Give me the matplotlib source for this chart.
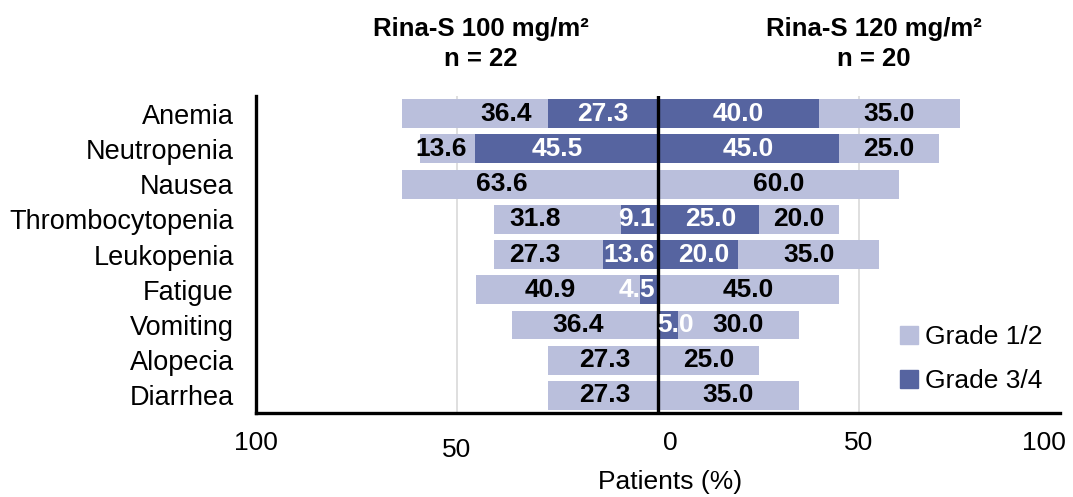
import numpy as np
import matplotlib.pyplot as plt
from matplotlib.patches import Patch
from matplotlib.transforms import blended_transform_factory

plt.rcParams['font.family'] = ['Liberation Sans', 'DejaVu Sans']

categories = ["Anemia", "Neutropenia", "Nausea", "Thrombocytopenia", "Leukopenia",
              "Fatigue", "Vomiting", "Alopecia", "Diarrhea"]

# Rina-S 100 mg/m2 (drawn to the left)
low_g12 = [36.4, 13.6, 63.6, 31.8, 27.3, 40.9, 36.4, 27.3, 27.3]
low_g34 = [27.3, 45.5, 0.0, 9.1, 13.6, 4.5, 0.0, 0.0, 0.0]

# Rina-S 120 mg/m2 (drawn to the right)
high_g12 = [35.0, 25.0, 60.0, 20.0, 35.0, 45.0, 30.0, 25.0, 35.0]
high_g34 = [40.0, 45.0, 0.0, 25.0, 20.0, 0.0, 5.0, 0.0, 0.0]

tick_pos = [-100, -50, 0, 50, 100]
tick_txt = ["100", "50", "0", "50", "100"]

LIGHT = "#babfdc"
DARK = "#5664a0"

# label nudges in % (positive = away from the centre line), to mimic the original
left_g12_shift = [-7.6, 1.7, 7.1, 5.6, 3.4, 1.9, 1.8, -0.4, -0.4]
left_g34_shift = [0, 2.2, 0, 0.8, 0.4, 3.1, 0, 0, 0]
right_g34_shift = [0, 0, 0, 0.5, 1.5, 0, 1.75, 0, 0]


def main():
    fig = plt.figure(figsize=(10.73, 4.97), dpi=100)
    ax = fig.add_axes([0.2386, 0.169, 0.7493, 0.6378])

    y = np.arange(len(categories))
    h = 0.82
    lg12, lg34 = np.array(low_g12), np.array(low_g34)
    hg12, hg34 = np.array(high_g12), np.array(high_g34)

    # gridlines behind bars
    for gx in (-50, 50):
        ax.axvline(gx, color="#d9d9d9", lw=1.2, zorder=0)

    ax.barh(y, -lg34, height=h, color=DARK, zorder=2)
    ax.barh(y, -lg12, left=-lg34, height=h, color=LIGHT, zorder=2)
    ax.barh(y, hg34, height=h, color=DARK, zorder=2)
    ax.barh(y, hg12, left=hg34, height=h, color=LIGHT, zorder=2)

    ax.axvline(0, color="black", lw=2.4, zorder=4)

    fs = 19
    for i in range(len(categories)):
        if lg34[i] > 0:
            ax.text(-(lg34[i] / 2 + left_g34_shift[i]), y[i], f"{lg34[i]:.1f}",
                    ha="center", va="center", color="white", fontsize=fs,
                    fontweight="bold", zorder=5)
        if lg12[i] > 0:
            ax.text(-(lg34[i] + lg12[i] / 2 + left_g12_shift[i]), y[i], f"{lg12[i]:.1f}",
                    ha="center", va="center", color="black", fontsize=fs,
                    fontweight="bold", zorder=5)
        if hg34[i] > 0:
            ax.text(hg34[i] / 2 + right_g34_shift[i], y[i], f"{hg34[i]:.1f}",
                    ha="center", va="center", color="white", fontsize=fs,
                    fontweight="bold", zorder=5)
        if hg12[i] > 0:
            ax.text(hg34[i] + hg12[i] / 2, y[i], f"{hg12[i]:.1f}",
                    ha="center", va="center", color="black", fontsize=fs,
                    fontweight="bold", zorder=5)

    ax.set_xlim(-100, 100)
    ax.set_ylim(len(categories) - 0.5, -0.5)
    ax.set_yticks(y)
    ax.set_yticklabels(categories, fontsize=19.5)
    ax.tick_params(axis="y", length=0, pad=16)
    ax.set_xticks([])

    for side in ("top", "right"):
        ax.spines[side].set_visible(False)
    for side in ("left", "bottom"):
        ax.spines[side].set_linewidth(2.4)
        ax.spines[side].set_color("black")

    # x tick labels (slightly offset as in the original)
    trans = blended_transform_factory(ax.transData, ax.transAxes)
    dx = [0, 0, 3, 0, -4]
    dy = [-0.095, -0.117, -0.095, -0.095, -0.095]
    for p, t, ox, oy in zip(tick_pos, tick_txt, dx, dy):
        ax.text(p + ox, oy, t, transform=trans, ha="center", va="center", fontsize=19)
    ax.text(3, -0.218, "Patients (%)", transform=trans, ha="center", va="center",
            fontsize=19)

    fig.text(0.448, 0.911, "Rina-S 100 mg/m²\nn = 22", ha="center", va="center",
             fontsize=18.5, fontweight="bold", linespacing=1.3)
    fig.text(0.8145, 0.911, "Rina-S 120 mg/m²\nn = 20", ha="center", va="center",
             fontsize=18.5, fontweight="bold", linespacing=1.3)

    handles = [Patch(color=LIGHT, label="Grade 1/2"), Patch(color=DARK, label="Grade 3/4")]
    ax.legend(handles=handles, loc="center left", bbox_to_anchor=(0.785, 0.17),
              frameon=False, fontsize=19, handlelength=0.65, handleheight=0.65,
              handletextpad=0.3, labelspacing=0.75, borderpad=0)

    fig.savefig("out.png", dpi=100)


if __name__ == "__main__":
    main()
